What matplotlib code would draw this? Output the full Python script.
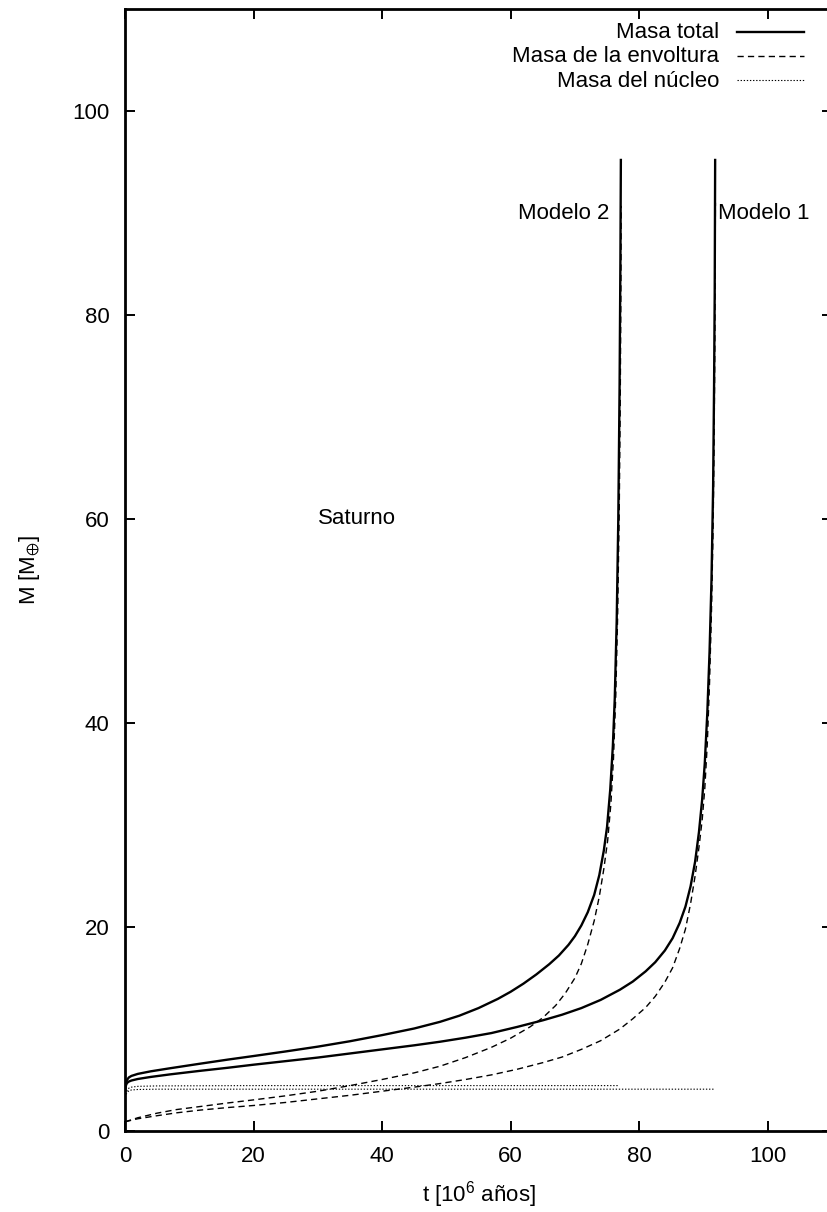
import matplotlib
matplotlib.use("Agg")
import matplotlib.pyplot as plt
from matplotlib.lines import Line2D

plt.rcParams['font.family'] = ['Liberation Sans', 'DejaVu Sans']
plt.rcParams['mathtext.fontset'] = 'custom'
plt.rcParams['mathtext.rm'] = 'Liberation Sans'
plt.rcParams['mathtext.default'] = 'regular'

# ---- data (t in 10^6 years, M in Earth masses) ----
# Modelo 2, total mass
t_tot2 = [0.0, 0.1, 0.3, 0.6, 1.0, 2.0, 4.0, 7.0, 11.7, 16.0, 20.0, 25.0, 30.0, 35.0, 40.0,
          45.0, 49.0, 52.0, 55.0, 58.0, 60.0, 62.0, 64.0, 66.0, 67.5, 69.0, 70.0, 71.0,
          72.0, 73.0, 73.8, 74.5, 75.0, 75.5, 75.9, 76.2, 76.5, 76.75, 76.95, 77.08, 77.15]
m_tot2 = [3.9, 4.6, 5.0, 5.25, 5.4, 5.6, 5.85, 6.15, 6.6, 7.0, 7.35, 7.8, 8.27, 8.8, 9.4,
          10.05, 10.7, 11.3, 12.05, 12.95, 13.65, 14.45, 15.35, 16.35, 17.2, 18.25, 19.1, 20.15,
          21.45, 23.15, 25.1, 27.5, 29.8, 33.5, 37.7, 42.4, 50.0, 60.0, 73.0, 85.5, 95.2]
# Modelo 1, total mass
t_tot1 = [0.0, 0.1, 0.3, 0.6, 1.0, 2.0, 4.0, 7.0, 11.7, 16.0, 20.0, 25.0, 30.0, 35.0, 40.0,
          45.0, 49.0, 53.0, 57.0, 61.0, 65.0, 68.0, 71.0, 74.0, 77.0, 79.0, 81.0, 82.5, 84.0,
          85.2, 86.3, 87.2, 88.0, 88.7, 89.3, 89.8, 90.2, 90.6, 90.95, 91.25, 91.5, 91.65,
          91.75, 91.82]
m_tot1 = [3.9, 4.4, 4.7, 4.85, 4.95, 5.1, 5.3, 5.55, 5.9, 6.2, 6.5, 6.85, 7.2, 7.6, 8.0,
          8.4, 8.75, 9.15, 9.6, 10.2, 10.85, 11.4, 12.05, 12.85, 13.85, 14.65, 15.65, 16.55, 17.7,
          18.9, 20.4, 22.0, 24.0, 26.4, 29.3, 32.5, 36.0, 41.0, 47.0, 54.0, 63.0, 73.0,
          82.0, 95.2]
# Modelo 2, envelope mass
t_env2 = [0.0, 0.5, 2.0, 5.0, 8.0, 11.7, 16.0, 20.0, 25.0, 30.0, 35.0, 40.0, 45.0, 49.0,
          53.0, 57.0, 60.0, 63.0, 65.0, 67.0, 68.5, 70.0, 71.0, 72.0, 73.0, 73.8, 74.5, 75.1,
          75.6, 76.0, 76.35, 76.65, 76.9, 77.05, 77.15, 77.2]
m_env2 = [0.9, 1.0, 1.3, 1.75, 2.1, 2.4, 2.75, 3.05, 3.45, 3.9, 4.45, 5.05, 5.7, 6.35,
          7.2, 8.2, 9.1, 10.2, 11.1, 12.3, 13.5, 15.0, 16.4, 18.3, 20.6, 23.0, 25.7, 28.5,
          32.1, 36.5, 42.5, 50.5, 61.0, 71.0, 82.0, 90.7]
# Modelo 1, envelope mass
t_env1 = [0.0, 0.5, 2.0, 5.0, 8.0, 11.7, 16.0, 20.0, 25.0, 30.0, 35.0, 40.0, 45.0, 49.0,
          53.0, 57.0, 61.0, 65.0, 68.0, 71.0, 74.0, 77.0, 79.0, 81.0, 82.5, 84.0, 85.2, 86.3,
          87.2, 88.0, 88.7, 89.3, 89.8, 90.2, 90.6, 90.95, 91.25, 91.5, 91.65, 91.77, 91.86]
m_env1 = [0.9, 0.98, 1.2, 1.5, 1.78, 2.05, 2.3, 2.5, 2.8, 3.15, 3.5, 3.9, 4.3, 4.65,
          5.05, 5.5, 6.05, 6.7, 7.25, 8.0, 8.85, 10.0, 11.0, 12.1, 13.2, 14.6, 16.0, 17.9,
          19.8, 22.3, 25.0, 27.8, 30.5, 33.5, 38.0, 44.0, 51.0, 59.0, 67.0, 77.0, 91.0]
# core masses
t_core2 = [0.0, 0.1, 0.3, 0.6, 1.0, 2.0, 5.0, 20.0, 50.0, 76.8]
m_core2 = [3.0, 3.6, 3.95, 4.2, 4.3, 4.38, 4.42, 4.45, 4.45, 4.45]
t_core1 = [0.0, 0.1, 0.3, 0.6, 1.0, 2.0, 5.0, 20.0, 50.0, 91.6]
m_core1 = [3.0, 3.5, 3.75, 3.95, 4.02, 4.07, 4.1, 4.1, 4.1, 4.1]

x_ticks = [0, 20, 40, 60, 80, 100]
y_ticks = [0, 20, 40, 60, 80, 100]
legend_labels = ["Masa total", "Masa de la envoltura", "Masa del núcleo"]

W, H = 827, 1212
fig = plt.figure(figsize=(W / 100, H / 100), dpi=100)
ax = fig.add_axes([125 / W, 1 - 1131 / H, 707 / W, 1122 / H])

FS = 16
solid_kw = dict(color='black', lw=1.7, ls='-')
dash_kw = dict(color='black', lw=1.0, ls=(0, (4.5, 3)))
dot_kw = dict(color='black', lw=0.8, ls=(0, (1.2, 1.6)))

ax.plot(t_tot2, m_tot2, **solid_kw)
ax.plot(t_tot1, m_tot1, **solid_kw)
ax.plot(t_env2, m_env2, **dash_kw)
ax.plot(t_env1, m_env1, **dash_kw)
ax.plot(t_core2, m_core2, **dot_kw)
ax.plot(t_core1, m_core1, **dot_kw)

ax.set_xlim(0, 110)
ax.set_ylim(0, 110)
ax.set_xticks(x_ticks)
ax.set_yticks(y_ticks)
ax.tick_params(direction='in', length=7, width=1.4, top=True, right=True,
               labelsize=FS, pad=11)
for s in ax.spines.values():
    s.set_linewidth(2.0)

ax.set_xlabel(r't [10$^{6}$ años]', fontsize=FS)
ax.set_ylabel(r'M [M$_{\oplus}$]', fontsize=FS)
ax.xaxis.set_label_coords(0.5, -0.043)
ax.yaxis.set_label_coords(-0.118, 0.5)

ax.text(75.3, 90, "Modelo 2", ha='right', va='center', fontsize=FS)
ax.text(92.3, 90, "Modelo 1", ha='left', va='center', fontsize=FS)
ax.text(30, 60, "Saturno", ha='left', va='center', fontsize=FS)

# gnuplot-style key (text right-aligned, sample on the right)
baselines = [38, 62.5, 87]
line_y = [32, 55.5, 80]
styles = [solid_kw, dash_kw, dot_kw]
for lab, yb, yl, st in zip(legend_labels, baselines, line_y, styles):
    fig.text(719 / W, 1 - yb / H, lab, ha='right', va='baseline', fontsize=FS)
    fig.add_artist(Line2D([737 / W, 804 / W], [1 - yl / H, 1 - yl / H],
                          transform=fig.transFigure, **st))

fig.savefig("out.png", dpi=100)
